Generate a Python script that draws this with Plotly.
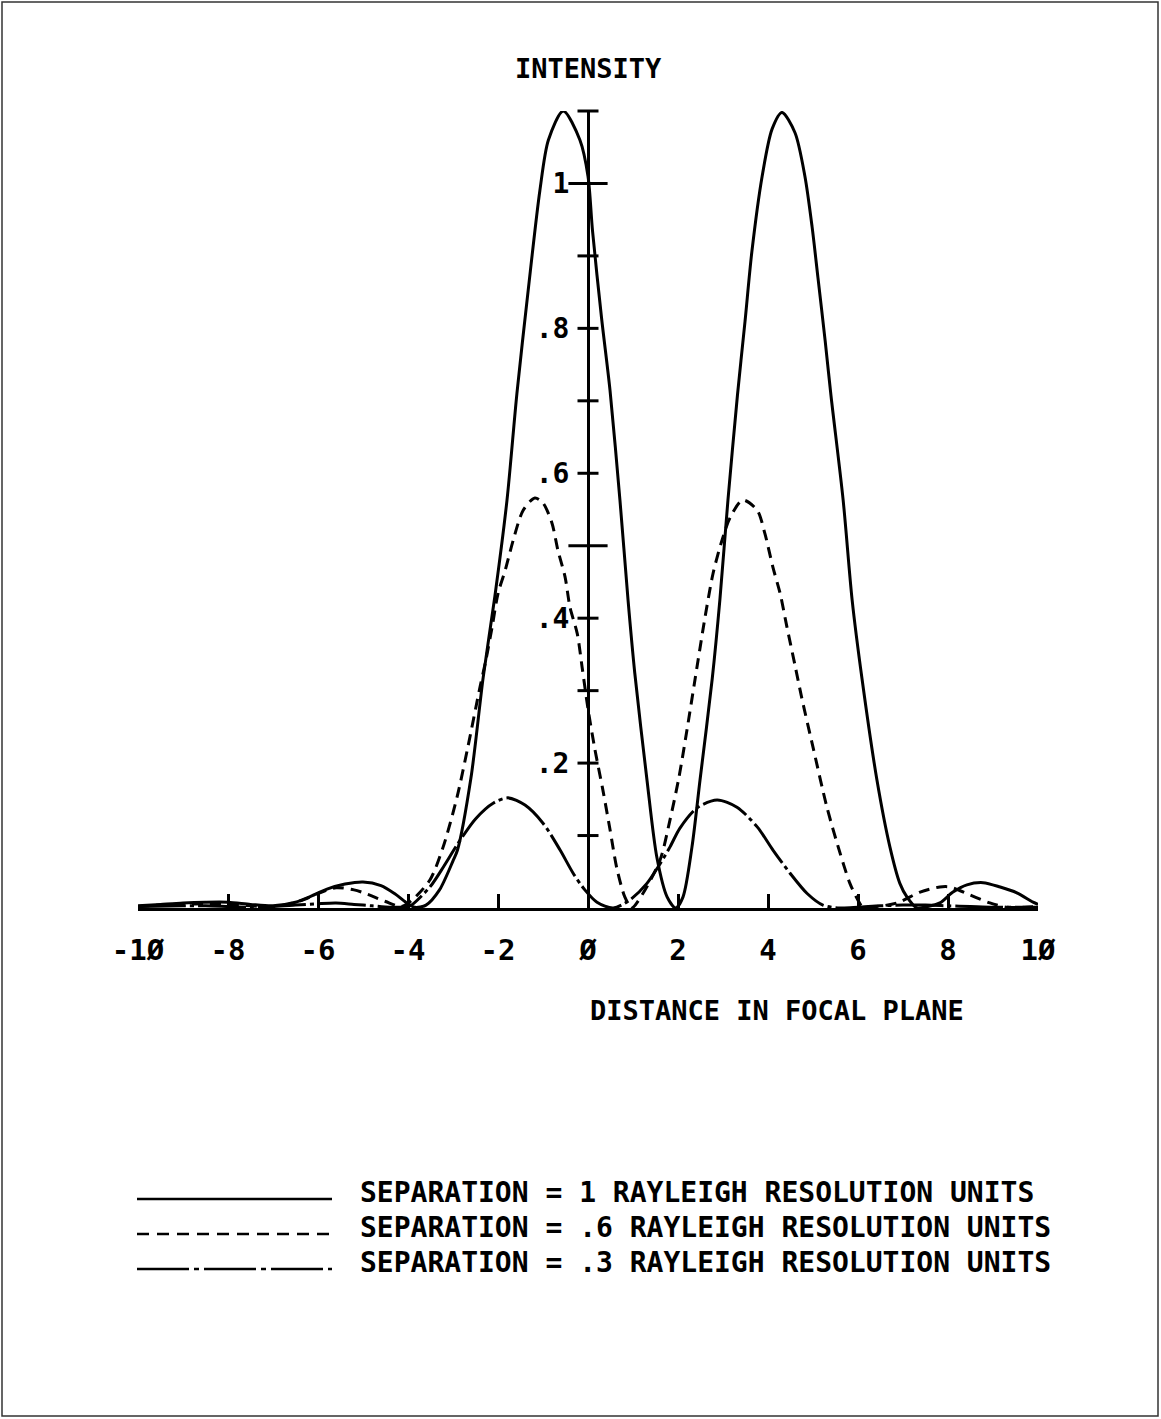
import plotly.graph_objects as go

# Page geometry (pixels)
W, H = 1161, 1419

# Intensity profiles of two point sources in the focal plane
# Separation = 1 Rayleigh resolution units
x_sep10 = [-10, -9.5, -9, -8.5, -8, -7.5, -7, -6.5, -6.2, -5.8, -5.4, -5.0, -4.6, -4.3,
           -4.05, -3.85, -3.6, -3.3, -3.0, -2.9, -2.6, -2.33, -2.07, -1.8, -1.58, -1.33,
           -1.07, -0.88, -0.55, -0.18, 0.0, 0.1, 0.3, 0.49, 0.71, 0.89, 1.04, 1.31, 1.53,
           1.76, 1.95, 2.11, 2.31, 2.49, 2.76, 2.93, 3.11, 3.32, 3.49, 3.64, 3.87, 4.09,
           4.31, 4.6, 4.82, 4.98, 5.11, 5.27, 5.4, 5.67, 5.87, 6.09, 6.42, 6.71, 6.93,
           7.09, 7.31, 7.55, 7.82, 8.11, 8.42, 8.78, 9.16, 9.53, 9.89, 10]
y_sep10 = [0.003, 0.005, 0.007, 0.008, 0.008, 0.005, 0.003, 0.008, 0.015, 0.026, 0.033,
           0.036, 0.031, 0.02, 0.008, 0.001, 0.004, 0.025, 0.065, 0.08, 0.18, 0.318,
           0.43, 0.563, 0.71, 0.852, 0.99, 1.06, 1.10, 1.06, 1.01, 0.935, 0.815, 0.714,
           0.563, 0.425, 0.324, 0.177, 0.07, 0.015, 0.0, 0.015, 0.084, 0.177, 0.316, 0.425,
           0.563, 0.707, 0.81, 0.905, 1.01, 1.075, 1.098, 1.07, 1.01, 0.94, 0.87, 0.783,
           0.707, 0.563, 0.425, 0.316, 0.177, 0.084, 0.034, 0.015, 0.0, 0.002, 0.007,
           0.022, 0.032, 0.035, 0.029, 0.021, 0.008, 0.005]

# Separation = .6 Rayleigh resolution units
x_sep06 = [-10, -9.5, -9, -8.5, -8, -7.5, -7, -6.6, -6.3, -6.0, -5.6, -5.2, -4.9, -4.5,
           -4.15, -3.91, -3.51, -3.22, -2.91, -2.67, -2.4, -2.27, -2.13, -2.0, -1.84, -1.66,
           -1.44, -1.18, -1.0, -0.8, -0.67, -0.51, -0.4, -0.24, -0.13, 0.0, 0.15, 0.33, 0.49,
           0.64, 0.82, 0.97, 1.22, 1.6, 1.82, 2.02, 2.2, 2.38, 2.6, 2.78, 2.98, 3.16, 3.44,
           3.76, 3.93, 4.11, 4.27, 4.42, 4.6, 4.75, 5.0, 5.31, 5.6, 5.82, 5.98, 6.1, 6.4,
           6.87, 7.38, 7.82, 8.04, 8.49, 8.93, 9.31, 9.7, 10]
y_sep06 = [0.002, 0.004, 0.005, 0.006, 0.005, 0.003, 0.002, 0.006, 0.012, 0.02, 0.028,
           0.025, 0.019, 0.009, 0.002, 0.011, 0.039, 0.084, 0.153, 0.222, 0.305, 0.342,
           0.388, 0.434, 0.466, 0.508, 0.549, 0.566, 0.559, 0.531, 0.494, 0.457, 0.415,
           0.379, 0.332, 0.275, 0.22, 0.163, 0.108, 0.055, 0.015, 0.0, 0.02, 0.066, 0.121,
           0.18, 0.246, 0.316, 0.401, 0.462, 0.508, 0.539, 0.563, 0.549, 0.517, 0.47, 0.434,
           0.388, 0.335, 0.29, 0.222, 0.139, 0.076, 0.034, 0.013, 0.002, 0.002, 0.007,
           0.022, 0.029, 0.029, 0.018, 0.007, 0.001, 0.001, 0.002]

# Separation = .3 Rayleigh resolution units
x_sep03 = [-10, -9, -8.5, -8, -7.5, -7, -6.5, -6.0, -5.6, -5.2, -4.8, -4.4, -4.0, -3.9,
           -3.5, -3.2, -2.9, -2.5, -2.1, -1.78, -1.4, -1.0, -0.62, -0.33, -0.07, 0.2, 0.56,
           0.93, 1.31, 1.56, 1.82, 2.04, 2.42, 2.87, 3.31, 3.76, 4.11, 4.49, 4.87, 5.22,
           5.6, 6.0, 6.5, 7.0, 7.5, 8.0, 8.5, 9.0, 10]
y_sep03 = [0.002, 0.003, 0.003, 0.002, 0.001, 0.002, 0.004, 0.006, 0.007, 0.005, 0.003,
           0.001, 0.002, 0.005, 0.03, 0.058, 0.088, 0.123, 0.145, 0.152, 0.142, 0.117,
           0.08, 0.048, 0.025, 0.008, 0.0, 0.011, 0.034, 0.057, 0.084, 0.11, 0.138, 0.149,
           0.139, 0.112, 0.08, 0.048, 0.02, 0.004, 0.0, 0.001, 0.003, 0.004, 0.004, 0.003,
           0.002, 0.001, 0.001]

# Axis ticks and labels
x_tickvals = [-10, -8, -6, -4, -2, 0, 2, 4, 6, 8, 10]
x_ticktext = ["-1Ø", "-8", "-6", "-4", "-2", "Ø", "2", "4", "6", "8", "1Ø"]
y_tickvals = [0.2, 0.4, 0.6, 0.8, 1.0]
y_ticktext = [".2", ".4", ".6", ".8", "1"]
y_short_ticks = [0.1, 0.2, 0.3, 0.4, 0.6, 0.7, 0.8, 0.9, 1.1]
y_long_ticks = [0.5, 1.0]

legend_labels = [
    "SEPARATION = 1 RAYLEIGH RESOLUTION UNITS",
    "SEPARATION = .6 RAYLEIGH RESOLUTION UNITS",
    "SEPARATION = .3 RAYLEIGH RESOLUTION UNITS",
]
legend_dashes = ["solid", "12px,8px", "52px,5px,5px,5px"]

FONT = "DejaVu Sans Mono"
INK = "#000000"
LW = 3.0


def px(x):
    return x / W


def py(y):
    return 1 - y / H


def text_font(size):
    return dict(family=FONT, size=size, color=INK, weight="bold")


fig = go.Figure()

curve_specs = [
    (x_sep10, y_sep10, "solid"),
    (x_sep06, y_sep06, "11px,7px"),
    (x_sep03, y_sep03, "48px,4px,4px,4px"),
]
for xs, ys, dash in curve_specs:
    fig.add_trace(go.Scatter(
        x=xs, y=ys, mode="lines",
        line=dict(color=INK, width=LW, dash=dash, shape="spline", smoothing=0.8),
        hoverinfo="skip", showlegend=False, cliponaxis=False,
    ))

# Cross ticks on the vertical axis through x = 0
fig.add_trace(go.Scatter(
    x=[0] * len(y_short_ticks), y=y_short_ticks, mode="markers",
    marker=dict(symbol="line-ew", size=15, line=dict(color=INK, width=LW)),
    hoverinfo="skip", showlegend=False, cliponaxis=False,
))
fig.add_trace(go.Scatter(
    x=[0] * len(y_long_ticks), y=y_long_ticks, mode="markers",
    marker=dict(symbol="line-ew", size=28, line=dict(color=INK, width=LW)),
    hoverinfo="skip", showlegend=False, cliponaxis=False,
))

x0_px, x1_px = 138, 1038
y0_px, y1_px = 908, 111
zero_frac = px(x0_px + (x1_px - x0_px) / 2)

fig.update_layout(
    width=W, height=H, autosize=False,
    margin=dict(l=0, r=0, t=0, b=0, pad=0, autoexpand=False),
    paper_bgcolor="white", plot_bgcolor="white",
    xaxis=dict(
        domain=[px(x0_px), px(x1_px)], range=[-10, 10],
        showgrid=False, zeroline=False, automargin=False,
        showline=True, linecolor=INK, linewidth=LW,
        ticks="inside", ticklen=14, tickwidth=LW, tickcolor=INK,
        tickvals=x_tickvals, ticktext=x_ticktext,
        tickfont=text_font(29),
        ticklabelstandoff=14,
    ),
    yaxis=dict(
        domain=[py(y0_px), py(y1_px)], range=[0, 1.1],
        anchor="free", position=zero_frac,
        showgrid=False, zeroline=False, automargin=False,
        showline=True, linecolor=INK, linewidth=LW,
        ticks="", tickvals=y_tickvals, ticktext=y_ticktext,
        tickfont=text_font(28),
        ticklabelstandoff=12,
    ),
    showlegend=False,
)

annotations = [
    dict(text="INTENSITY", x=px(588), y=py(68)),
    dict(text="DISTANCE IN FOCAL PLANE", x=px(777), y=py(1010)),
]
for a in annotations:
    fig.add_annotation(
        text=a["text"], x=a["x"], y=a["y"], xref="paper", yref="paper",
        showarrow=False, xanchor="center", yanchor="middle",
        font=text_font(27),
    )

# Key: sample strokes with their captions
row_y = [1192, 1227, 1262]
for label, dash, ry in zip(legend_labels, legend_dashes, row_y):
    fig.add_shape(
        type="line", xref="paper", yref="paper",
        x0=px(137), x1=px(332), y0=py(ry + 7), y1=py(ry + 7),
        line=dict(color=INK, width=2.6, dash=dash),
    )
    fig.add_annotation(
        text=label, x=px(358), y=py(ry), xref="paper", yref="paper",
        showarrow=False, xanchor="left", yanchor="middle",
        font=text_font(28),
    )

# Page frame
fig.add_shape(
    type="rect", xref="paper", yref="paper",
    x0=px(2), x1=px(1158), y0=py(1416), y1=py(2),
    line=dict(color="#333333", width=1.5),
)

fig.write_html("out.html")
